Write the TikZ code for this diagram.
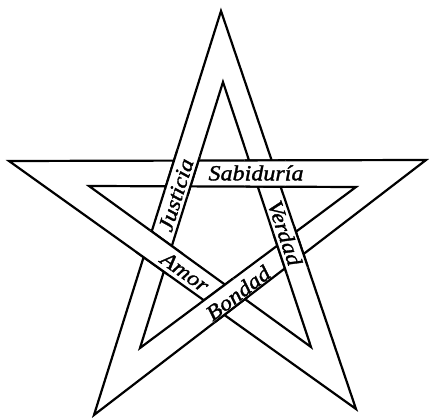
\documentclass[tikz,border=0pt]{standalone}
\usepackage{fontspec}
\setmainfont{Liberation Serif}
\newfontfamily\bandfont{Liberation Serif}[FakeStretch=1.12, FakeBold=1.5]
\usetikzlibrary{calc}

\begin{document}
\begin{tikzpicture}[x=1pt, y=-1pt,
  band/.style={draw=black, line width=2.2pt, line join=miter},
  word/.style={font=\bandfont\itshape\fontsize{21.5}{25}\selectfont, inner sep=0pt},
]
\useasboundingbox (0,0) rectangle (429,419);

% outer and inner star points
\coordinate (oT)  at (221,11);
\coordinate (oL)  at (9,161);
\coordinate (oR)  at (426,160);
\coordinate (oBL) at (94,415);
\coordinate (oBR) at (356,409);
\coordinate (iT)  at (223,82);
\coordinate (iL)  at (89,186);
\coordinate (iR)  at (356,187);
\coordinate (iBL) at (140,348);
\coordinate (iBR) at (311,347);

% crossings of the band
\coordinate (JS) at (182,173);
\coordinate (SV) at (265,173);
\coordinate (VB) at (291,250);
\coordinate (BA) at (225,301);
\coordinate (AJ) at (159,253);

% the whole band, outer and inner edge
\draw[band] (oT) -- (oBL) -- (oR) -- (oL) -- (oBR) -- cycle;
\draw[band] (iT) -- (iBL) -- (iR) -- (iL) -- (iBR) -- cycle;

% over/under: the upper strip is laid again at each crossing
\foreach \from/\to/\cross in {T/BL/JS, R/L/SV, BR/T/VB, BL/R/BA, L/BR/AJ} {
  \begin{scope}
    \clip (\cross) circle (24);
    \fill[white] (o\from) -- (o\to) -- (i\to) -- (i\from) -- cycle;
    \draw[band] (o\from) -- (o\to) (i\from) -- (i\to);
  \end{scope}
}

% words on the strips
\node[word, rotate=72.6]  (justicia)  at (176,195) {Justicia};
\node[word]               (sabiduria) at (256,173) {Sabiduría};
\node[word, rotate=-71.3] (verdad)    at (285,233) {Verdad};
\node[word, rotate=-35.6] (amor)      at (185,272) {Amor};
\node[word, rotate=37.5]  (bondad)    at (238,293) {Bondad};
\end{tikzpicture}
\end{document}
